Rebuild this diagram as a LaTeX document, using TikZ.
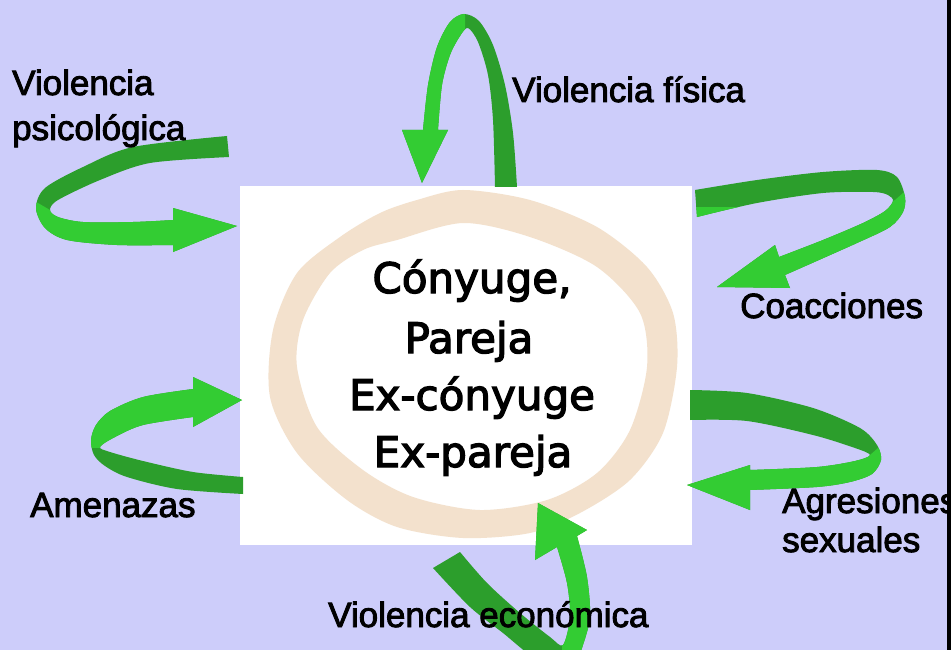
\documentclass[tikz,border=0pt]{standalone}
\usepackage{fontspec}
\setmainfont[FakeBold=2.5]{Liberation Sans}
\newfontfamily\centerfont[FakeBold=3]{DejaVu Sans}
\definecolor{bg}{RGB}{205,205,250}
\definecolor{dkgreen}{RGB}{44,158,44}
\definecolor{ltgreen}{RGB}{51,204,51}
\definecolor{ringc}{RGB}{243,225,205}
\begin{document}
\begin{tikzpicture}[x=1pt,y=-1pt,
  lbl/.style={font=\fontsize{35}{40}\selectfont, anchor=base west, inner sep=0pt},
  ctr/.style={font=\centerfont\fontsize{42}{48}\selectfont, anchor=base, inner sep=0pt},
  back/.style={fill=dkgreen},
  front/.style={fill=ltgreen},
  boxstyle/.style={fill=white, draw=none, inner sep=0pt, minimum width=452pt, minimum height=359pt}]
\useasboundingbox (0,0) rectangle (951,650);
\clip (0,0) rectangle (951,650);
\fill[bg] (0,0) rectangle (951,650);
\fill[black] (947,0) rectangle (951,650);

% central box
\node[boxstyle] (box) at (466,365.5) {};

% beige ring
\fill[ringc, even odd rule]
  plot[smooth cycle] coordinates {(417,200) (463,190) (530,200) (597,227) (647,267) (673,313) (677,367) (663,433) (630,480) (580,513) (530,533) (463,538) (397,527) (347,500) (297,453) (270,397) (273,330) (297,273) (340,237) (380,213)}
  plot[smooth cycle] coordinates {(397,240) (463,223) (530,237) (597,267) (640,313) (647,367) (630,430) (597,473) (547,500) (480,510) (413,497) (363,470) (317,427) (297,367) (303,320) (330,273) (363,250)};

% central text
\node[ctr] (c1) at (472,293) {Cónyuge,};
\node[ctr] (c2) at (469,353) {Pareja};
\node[ctr] (c3) at (472,410) {Ex-cónyuge};
\node[ctr] (c4) at (473,467) {Ex-pareja};

% ---- top arrow (Violencia fisica)
\fill[back] plot[smooth] coordinates {(517,187) (513,133) (505,85) (493,45) (479,21) (464,14) (450,22) (437,47) (428,85) (423,130)} -- (402,130) -- (422,183) -- (448,130) -- (438,130)
  -- plot[smooth] coordinates {(438,130) (442,85) (450,55) (460,36) (468,28) (478,42) (488,75) (493,120) (495,187)} -- cycle;
\begin{scope}
\clip (380,0) rectangle (465,200);
\fill[front] plot[smooth] coordinates {(517,187) (513,133) (505,85) (493,45) (479,21) (464,14) (450,22) (437,47) (428,85) (423,130)} -- (402,130) -- (422,183) -- (448,130) -- (438,130)
  -- plot[smooth] coordinates {(438,130) (442,85) (450,55) (460,36) (468,28) (478,42) (488,75) (493,120) (495,187)} -- cycle;
\end{scope}

% ---- left top arrow (Violencia psicologica)
\fill[back] plot[smooth] coordinates {(227,136) (133,147) (83,167) (45,188) (36,208) (45,228) (67,240) (117,245) (173,245)} -- (173,252) -- (237,226) -- (173,208) -- (173,220)
  -- plot[smooth] coordinates {(173,220) (133,222) (83,222) (58,217) (50,210) (58,200) (100,180) (150,163) (229,157)} -- cycle;
\begin{scope}
\clip (0,190) -- (38,203) -- (50,210) -- (60,205) -- (260,205) -- (260,260) -- (0,260) -- cycle;
\fill[front] plot[smooth] coordinates {(227,136) (133,147) (83,167) (45,188) (36,208) (45,228) (67,240) (117,245) (173,245)} -- (173,252) -- (237,226) -- (173,208) -- (173,220)
  -- plot[smooth] coordinates {(173,220) (133,222) (83,222) (58,217) (50,210) (58,200) (100,180) (150,163) (229,157)} -- cycle;
\end{scope}

% ---- right top arrow (Coacciones)
\fill[back] plot[smooth] coordinates {(695,190) (757,180) (823,172) (877,170) (897,177) (905,197) (903,212) (890,227) (857,243) (785,275)} -- (790,288) -- (717,287) -- (775,245) -- (779,257)
  -- plot[smooth] coordinates {(779,257) (823,240) (863,223) (885,211) (893,201) (888,195) (873,192) (823,193) (757,203) (697,217)} -- cycle;
\begin{scope}
\clip (930,170) -- (903,193) -- (895,200) -- (880,207) -- (690,207) -- (690,300) -- (930,300) -- cycle;
\fill[front] plot[smooth] coordinates {(695,190) (757,180) (823,172) (877,170) (897,177) (905,197) (903,212) (890,227) (857,243) (785,275)} -- (790,288) -- (717,287) -- (775,245) -- (779,257)
  -- plot[smooth] coordinates {(779,257) (823,240) (863,223) (885,211) (893,201) (888,195) (873,192) (823,193) (757,203) (697,217)} -- cycle;
\end{scope}

% ---- right lower arrow (Agresiones sexuales)
\fill[back] plot[smooth] coordinates {(690,390) (747,393) (813,408) (860,428) (877,445) (881,460) (872,474) (850,482) (817,487) (750,490)} -- (750,510) -- (687,485) -- (750,465) -- (750,470)
  -- plot[smooth] coordinates {(750,470) (817,467) (855,461) (870,455) (855,448) (813,435) (747,421) (690,420)} -- cycle;
\begin{scope}
\clip (900,430) -- (878,448) -- (870,455) -- (680,455) -- (680,520) -- (900,520) -- cycle;
\fill[front] plot[smooth] coordinates {(690,390) (747,393) (813,408) (860,428) (877,445) (881,460) (872,474) (850,482) (817,487) (750,490)} -- (750,510) -- (687,485) -- (750,465) -- (750,470)
  -- plot[smooth] coordinates {(750,470) (817,467) (855,461) (870,455) (855,448) (813,435) (747,421) (690,420)} -- cycle;
\end{scope}

% ---- left lower arrow (Amenazas)
\fill[back] plot[smooth] coordinates {(243,494) (177,489) (127,477) (105,466) (94,455) (91,440) (96,425) (110,411) (143,397) (193,389)} -- (193,377) -- (242,400) -- (193,427) -- (193,417)
  -- plot[smooth] coordinates {(193,417) (143,425) (115,437) (100,447) (110,452) (143,461) (193,472) (243,477)} -- cycle;
\begin{scope}
\clip (80,370) rectangle (250,447);
\fill[front] plot[smooth] coordinates {(243,494) (177,489) (127,477) (105,466) (94,455) (91,440) (96,425) (110,411) (143,397) (193,389)} -- (193,377) -- (242,400) -- (193,427) -- (193,417)
  -- plot[smooth] coordinates {(193,417) (143,425) (115,437) (100,447) (110,452) (143,461) (193,472) (243,477)} -- cycle;
\end{scope}

% ---- bottom arrow (Violencia economica)
\fill[back] plot[smooth] coordinates {(433,568) (470,607) (503,633) (530,655) (555,668) (575,663) (582,648) (590,617) (587,577) (577,536)} -- (587,530) -- (538,503) -- (535,560) -- (557,547)
  -- plot[smooth] coordinates {(557,547) (567,583) (570,617) (563,645) (550,637) (520,613) (487,583) (460,552)} -- cycle;
\begin{scope}
\clip (530,490) -- (600,490) -- (600,670) -- (562,670) -- (562,640) -- (540,600) -- (530,560) -- cycle;
\fill[front] plot[smooth] coordinates {(433,568) (470,607) (503,633) (530,655) (555,668) (575,663) (582,648) (590,617) (587,577) (577,536)} -- (587,530) -- (538,503) -- (535,560) -- (557,547)
  -- plot[smooth] coordinates {(557,547) (567,583) (570,617) (563,645) (550,637) (520,613) (487,583) (460,552)} -- cycle;
\end{scope}

% labels
\node[lbl] (l1) at (12,95) {Violencia};
\node[lbl] (l2) at (12,140) {psicológica};
\node[lbl] (l3) at (512,102) {Violencia física};
\node[lbl] (l4) at (740,318) {Coacciones};
\node[lbl] (l5) at (782,513) {Agresiones};
\node[lbl] (l6) at (782,552) {sexuales};
\node[lbl] (l7) at (30,517) {Amenazas};
\node[lbl] (l8) at (328,627) {Violencia económica};
\end{tikzpicture}
\end{document}
